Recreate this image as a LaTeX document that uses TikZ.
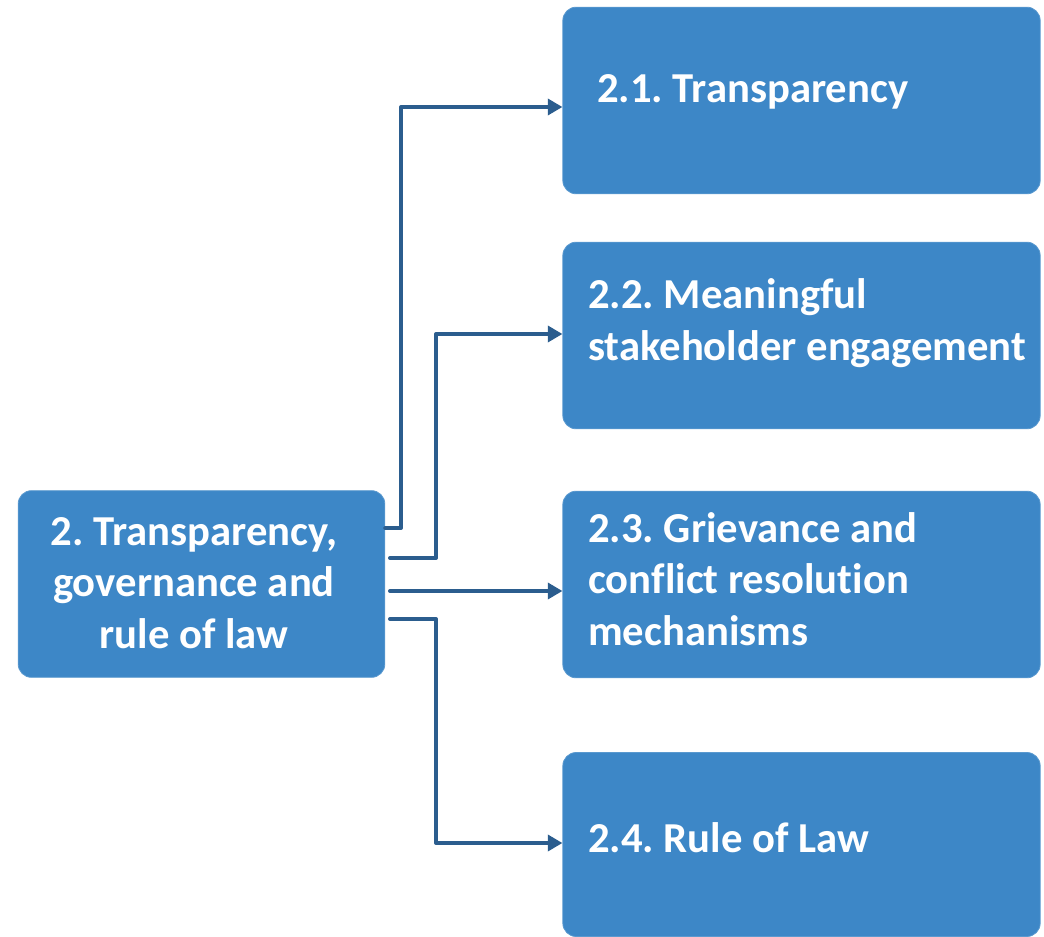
\documentclass[tikz,border=0pt]{standalone}
\usepackage{fontspec}
\setmainfont{Carlito}[Ligatures=NoCommon]
\frenchspacing
\usetikzlibrary{positioning,arrows.meta}
\definecolor{boxblue}{HTML}{3D87C7}
\definecolor{linkblue}{HTML}{2B5D8E}
\tikzset{
	box/.style={fill=boxblue, draw=boxblue!85!white, line width=0.6pt, rounded corners=10pt, inner sep=0pt},
	boxtext/.style={text=white, font=\bfseries\fontsize{32}{38.5}\selectfont, inner sep=0pt},
	link/.style={draw=linkblue, line width=3pt, line cap=round, line join=round, -{Triangle[length=11pt,width=12pt]}}
}
\begin{document}
\begin{tikzpicture}[x=0.75pt,y=-0.75pt]
			\useasboundingbox (0,0) rectangle (1044,937);
			\node[box, minimum width=275pt, minimum height=140pt] (main) at (201.5,584) {};
			\node[box, minimum width=358pt, minimum height=140pt] (trans) at (801.5,100.5) {};
			\node[box, minimum width=358pt, minimum height=140pt] (engage) at (801.5,335.5) {};
			\node[box, minimum width=358pt, minimum height=140pt] (griev) at (801.5,584.5) {};
			\node[box, minimum width=358pt, minimum height=138pt] (law) at (801.5,844.5) {};
			% last line sits on the base anchor
			\node[boxtext, align=center, anchor=base] (mainlbl) at (194,648) {2. Transparency,\\governance and\\rule of law};
			\node[boxtext, anchor=base west] (translbl) at (597,103) {2.1. Transparency};
			\node[boxtext, align=left, anchor=base west] (engagelbl) at (588,360) {2.2. Meaningful\\stakeholder engagement};
			\node[boxtext, align=left, anchor=base west] (grievlbl) at (588,645) {2.3. Grievance and\\conflict resolution\\mechanisms};
			\node[boxtext, anchor=base west] (lawlbl) at (588,852) {2.4. Rule of Law};
			\draw[link] (main.east |- 0,528) -- (401,528) |- (trans.west |- 0,107);
			\draw[link] (390,558) -- (436,558) |- (engage.west |- 0,334);
			\draw[link] (390,591) -- (griev.west |- 0,591);
			\draw[link] (390,619) -- (436,619) |- (law.west |- 0,843);
		\end{tikzpicture}
\end{document}
